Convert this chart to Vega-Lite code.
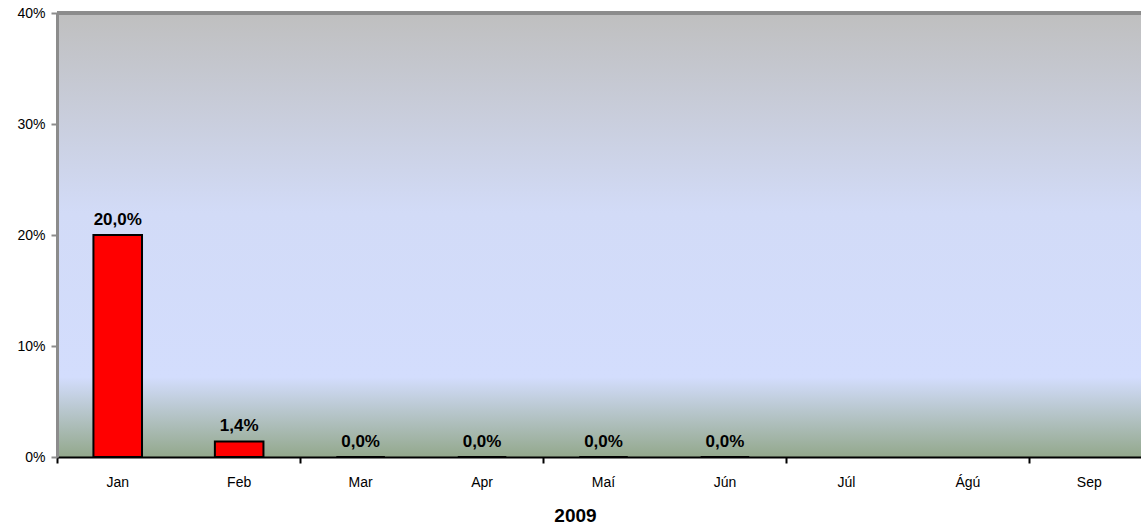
{
  "$schema": "https://vega.github.io/schema/vega-lite/v6.json",
  "width": 1093,
  "height": 444,
  "autosize": {"type": "none"},
  "padding": {"left": 57, "top": 13, "right": 0, "bottom": 70},
  "background": "white",
  "config": {
    "locale": {"number": {"decimal": ",", "thousands": ".", "grouping": [3], "currency": ["", " €"]}},
    "font": "Liberation Sans",
    "view": {
      "stroke": null,
      "fill": {
        "gradient": "linear",
        "x1": 0, "y1": 0, "x2": 0, "y2": 1,
        "stops": [
          {"offset": 0, "color": "#bfbfbf"},
          {"offset": 0.45, "color": "#d2dbf7"},
          {"offset": 0.82, "color": "#d3ddfd"},
          {"offset": 1, "color": "#93a88c"}
        ]
      }
    }
  },
  "data": {
    "values": [
      {"month": "Jan", "value": 0.2},
      {"month": "Feb", "value": 0.014},
      {"month": "Mar", "value": 0.0},
      {"month": "Apr", "value": 0.0},
      {"month": "Maí", "value": 0.0},
      {"month": "Jún", "value": 0.0},
      {"month": "Júl", "value": null},
      {"month": "Ágú", "value": null},
      {"month": "Sep", "value": null}
    ]
  },
  "encoding": {
    "x": {
      "field": "month", "type": "nominal", "sort": null,
      "scale": {"domain": ["Jan", "Feb", "Mar", "Apr", "Maí", "Jún", "Júl", "Ágú", "Sep"], "paddingInner": 0.6, "paddingOuter": 0.3},
      "axis": {
        "orient": "bottom",
        "title": "2009", "titleFontSize": 19, "titleFontWeight": "bold", "titleColor": "#000", "titlePadding": 17,
        "titleX": 518, "titleAlign": "center",
        "labelAngle": 0, "labelFontSize": 14, "labelColor": "#000", "labelPadding": 18,
        "domainColor": "#000", "domainWidth": 2, "ticks": false
      }
    },
    "y": {
      "field": "value", "type": "quantitative",
      "scale": {"domain": [0, 0.4], "nice": false},
      "axis": {
        "title": null, "format": ".0%", "values": [0, 0.1, 0.2, 0.3, 0.4],
        "grid": false, "labelFontSize": 14, "labelColor": "#000", "labelPadding": 6,
        "domainColor": "#8c8c8c", "domainWidth": 3, "tickColor": "#8c8c8c", "tickWidth": 2, "tickSize": 6
      }
    }
  },
  "layer": [
    {
      "mark": {"type": "rule", "color": "#8c8c8c", "strokeWidth": 3},
      "encoding": {"y": {"datum": 0.4}, "x": null}
    },
    {
      "mark": {"type": "bar", "color": "#ff0000", "stroke": "#000", "strokeWidth": 2}
    },
    {
      "mark": {"type": "text", "baseline": "bottom", "dy": -6, "fontSize": 17, "fontWeight": "bold", "color": "#000"},
      "encoding": {
        "text": {"field": "value", "format": ".1%"},
        "x": {
          "field": "month", "type": "nominal", "sort": null,
          "scale": {"domain": ["Jan", "Feb", "Mar", "Apr", "Maí", "Jún", "Júl", "Ágú", "Sep"], "paddingInner": 0.6, "paddingOuter": 0.3},
          "axis": {
            "orient": "bottom", "title": null, "labels": false, "domain": false,
            "values": ["Jan", "Mar", "Maí", "Júl", "Sep"],
            "bandPosition": 0, "tickOffset": -36.43,
            "tickColor": "#000", "tickWidth": 2, "tickSize": 6
          }
        }
      }
    }
  ],
  "resolve": {"axis": {"x": "independent"}}
}
